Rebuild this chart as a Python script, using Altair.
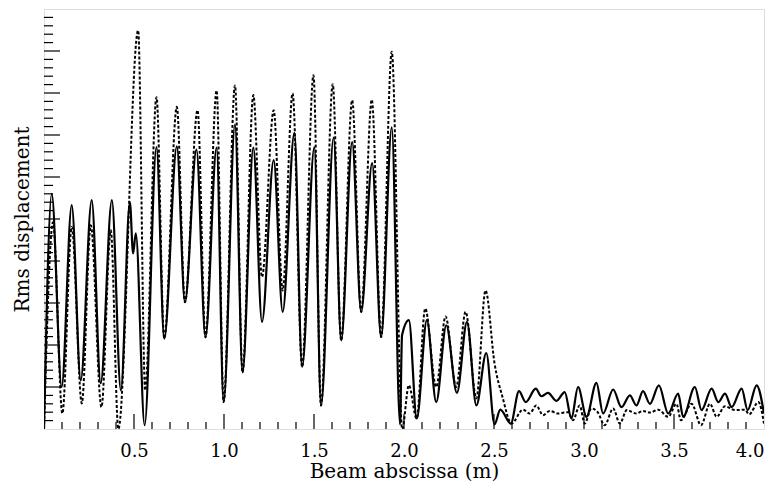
import altair as alt
import pandas as pd

# Solid curve (peaks / troughs)
solid_x = [0.000, 0.043, 0.098, 0.154, 0.204, 0.265, 0.315, 0.377, 0.427, 0.477, 0.495, 0.510,
           0.559, 0.625, 0.668, 0.738, 0.783, 0.847, 0.897, 0.959, 0.998, 1.061, 1.103, 1.163,
           1.211, 1.276, 1.326, 1.391, 1.434, 1.502, 1.539, 1.609, 1.651, 1.712, 1.762, 1.823,
           1.873, 1.932, 1.978, 1.989, 2.027, 2.071, 2.127, 2.179, 2.235, 2.294, 2.350, 2.402,
           2.457, 2.503, 2.535, 2.593, 2.639, 2.676, 2.732, 2.763, 2.800, 2.847, 2.893, 2.930,
           2.967, 3.014, 3.069, 3.106, 3.162, 3.208, 3.255, 3.291, 3.328, 3.366, 3.416, 3.468,
           3.523, 3.551, 3.616, 3.653, 3.709, 3.746, 3.783, 3.820, 3.876, 3.909, 3.959, 4.000]
solid_y = [0.00, 5.60, 1.00, 5.33, 1.16, 5.45, 1.09, 5.45, 0.92, 5.40, 4.18, 4.66,
           0.09, 6.71, 2.15, 6.73, 3.02, 6.65, 2.19, 6.70, 0.64, 7.25, 1.35, 6.70,
           2.55, 6.40, 2.79, 7.05, 1.48, 6.71, 0.56, 6.94, 2.11, 6.83, 2.79, 6.33,
           2.19, 7.18, 0.11, 2.23, 2.59, 0.25, 2.59, 0.64, 2.47, 0.86, 2.55, 0.56,
           1.81, 0.11, 0.46, 0.13, 0.90, 0.64, 0.96, 0.78, 0.86, 0.67, 0.88, 0.25,
           1.00, 0.29, 1.10, 0.37, 0.94, 0.52, 0.80, 0.56, 0.90, 0.60, 1.04, 0.37,
           0.84, 0.29, 1.00, 0.45, 0.96, 0.64, 0.84, 0.52, 0.96, 0.45, 1.04, 0.37]

# Dotted curve
dotted_x = [0.000, 0.050, 0.102, 0.154, 0.210, 0.260, 0.319, 0.371, 0.413, 0.523, 0.562,
            0.625, 0.668, 0.738, 0.783, 0.853, 0.897, 0.959, 0.998, 1.061, 1.103, 1.163,
            1.211, 1.276, 1.326, 1.381, 1.434, 1.497, 1.539, 1.604, 1.651, 1.712, 1.762,
            1.821, 1.873, 1.932, 1.990, 2.027, 2.070, 2.118, 2.179, 2.231, 2.290, 2.342,
            2.402, 2.453, 2.503, 2.548, 2.597, 2.661, 2.698, 2.735, 2.772, 2.809, 2.856,
            2.911, 2.939, 2.976, 3.004, 3.041, 3.076, 3.115, 3.162, 3.199, 3.238, 3.291,
            3.328, 3.366, 3.412, 3.468, 3.514, 3.538, 3.598, 3.650, 3.700, 3.737, 3.783,
            3.839, 3.894, 3.917, 3.969, 4.000]
dotted_y = [0.00, 4.92, 0.37, 4.81, 0.61, 4.85, 0.52, 4.73, 0.00, 9.49, 0.92,
            7.90, 2.16, 7.67, 3.02, 7.59, 2.18, 8.06, 0.64, 8.18, 1.35, 7.95,
            3.62, 7.59, 3.30, 7.99, 1.48, 8.42, 0.56, 8.21, 2.11, 7.83, 2.79,
            7.84, 2.19, 8.98, 0.00, 1.04, 0.25, 2.87, 1.00, 2.68, 1.00, 2.79,
            0.73, 3.30, 1.56, 0.75, 0.13, 0.46, 0.37, 0.56, 0.33, 0.43, 0.37,
            0.40, 0.21, 0.56, 0.13, 0.49, 0.40, 0.09, 0.49, 0.13, 0.45, 0.37,
            0.43, 0.39, 0.46, 0.29, 0.60, 0.21, 0.60, 0.09, 0.60, 0.29, 0.54,
            0.45, 0.46, 0.35, 0.64, 0.13]

x_labels = [0.5, 1.0, 1.5, 2.0, 2.5, 3.0, 3.5, 4.0]
x_major = [0.5, 1.0, 1.5, 2.0, 2.5, 3.0, 3.5]
x_minor = [round(i * 0.1, 1) for i in range(1, 40) if i % 5 != 0]
y_major = list(range(1, 10))
y_minor = [round(i * 0.2, 1) for i in range(1, 50) if i % 5 != 0]

W, H = 720, 420
FONT = "DejaVu Serif"

solid_df = pd.DataFrame({"x": solid_x, "y": solid_y})
dotted_df = pd.DataFrame({"x": dotted_x, "y": dotted_y})

xs = alt.Scale(domain=[0, 4], nice=False, zero=False)
ys = alt.Scale(domain=[0, 10], nice=False)

xaxis = alt.Axis(values=x_labels, format=".1f", ticks=False, domain=False, grid=False,
                 labelFont=FONT, labelFontSize=18, labelColor="black", labelPadding=13,
                 labelFlush=True,
                 title="Beam abscissa (m)", titleFont=FONT, titleFontSize=20,
                 titleFontWeight="normal", titleColor="black", titlePadding=1)
yaxis = alt.Axis(labels=False, ticks=False, domain=False, grid=False,
                 title="Rms displacement", titleFont=FONT, titleFontSize=20,
                 titleFontWeight="normal", titleColor="black", titlePadding=12)

dotted = alt.Chart(dotted_df).mark_line(
    color="black", strokeWidth=2, strokeDash=[3, 2], interpolate="monotone", clip=True
).encode(x=alt.X("x:Q", scale=xs, axis=xaxis), y=alt.Y("y:Q", scale=ys, axis=yaxis))

solid = alt.Chart(solid_df).mark_line(
    color="black", strokeWidth=2.2, interpolate="monotone", clip=True
).encode(x=alt.X("x:Q", scale=xs), y=alt.Y("y:Q", scale=ys))

xmaj = alt.Chart(pd.DataFrame({"t": x_major})).mark_rule(color="black", strokeWidth=1.2).encode(
    x=alt.X("t:Q", scale=xs), y=alt.value(H), y2=alt.value(H - 15))
xmin = alt.Chart(pd.DataFrame({"t": x_minor})).mark_rule(color="black", strokeWidth=1.2).encode(
    x=alt.X("t:Q", scale=xs), y=alt.value(H), y2=alt.value(H - 7))
ymaj = alt.Chart(pd.DataFrame({"t": y_major})).mark_rule(color="black", strokeWidth=1.2).encode(
    y=alt.Y("t:Q", scale=ys), x=alt.value(0), x2=alt.value(16))
ymin = alt.Chart(pd.DataFrame({"t": y_minor})).mark_rule(color="black", strokeWidth=1.2).encode(
    y=alt.Y("t:Q", scale=ys), x=alt.value(0), x2=alt.value(9))

chart = alt.layer(dotted, solid, xmaj, xmin, ymaj, ymin).properties(
    width=W, height=H,
    autosize=alt.AutoSizeParams(type="none"),
    padding={"left": 36, "top": 1, "right": 8, "bottom": 60},
).configure_view(stroke="black", strokeWidth=1.5).configure(background="white")

chart.save("out.html", embed_options={"renderer": "svg", "actions": False})
